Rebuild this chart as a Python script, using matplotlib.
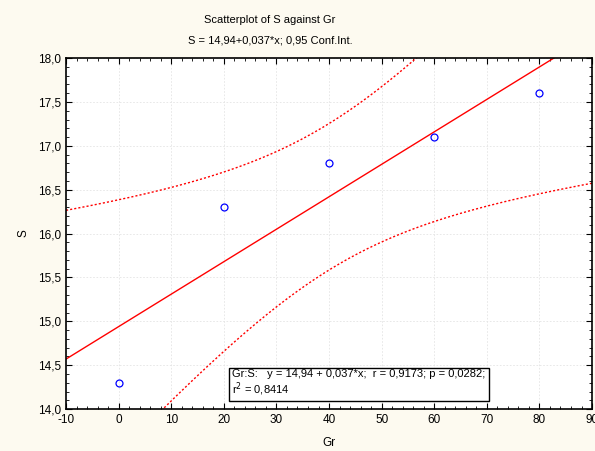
import numpy as np
import matplotlib
matplotlib.use("Agg")
import matplotlib.pyplot as plt
from matplotlib.ticker import MultipleLocator, FuncFormatter

plt.rcParams['font.family'] = ['Liberation Sans', 'DejaVu Sans']

# data
gr = np.array([0, 20, 40, 60, 80])
s = np.array([14.3, 16.3, 16.8, 17.1, 17.6])

T_95_DF3 = 3.1824  # two-sided 0.95 quantile, 3 degrees of freedom

# least-squares fit and 0.95 confidence band for the mean
n = len(gr)
slope, intercept = np.polyfit(gr, s, 1)
resid = s - (intercept + slope * gr)
se = np.sqrt(np.sum(resid ** 2) / (n - 2))
sxx = np.sum((gr - gr.mean()) ** 2)

xs = np.linspace(-10, 90, 300)
fit = intercept + slope * xs
half = T_95_DF3 * se * np.sqrt(1.0 / n + (xs - gr.mean()) ** 2 / sxx)

bg = '#FDFAF0'
fs = 8
fig = plt.figure(figsize=(5.95, 4.51), dpi=100, facecolor=bg)
ax = fig.add_axes([0.111, 0.093, 0.884, 0.778])
ax.set_facecolor('white')

ax.plot(xs, fit, color='red', lw=1.0)
ax.plot(xs, fit + half, color='red', lw=1.0, ls=(0, (1.5, 1.5)))
ax.plot(xs, fit - half, color='red', lw=1.0, ls=(0, (1.5, 1.5)))
ax.plot(gr, s, 'o', mfc='none', mec='blue', ms=5, mew=0.9)

ax.set_xlim(-10, 90)
ax.set_ylim(14.0, 18.0)
ax.xaxis.set_major_locator(MultipleLocator(10))
ax.xaxis.set_minor_locator(MultipleLocator(2))
ax.yaxis.set_major_locator(MultipleLocator(0.5))
ax.yaxis.set_minor_locator(MultipleLocator(0.1))
ax.xaxis.set_major_formatter(FuncFormatter(lambda v, p: f"{v:.0f}"))
ax.yaxis.set_major_formatter(FuncFormatter(lambda v, p: f"{v:.1f}".replace('.', ',')))
ax.tick_params(which='both', direction='in', top=True, right=True, labelsize=fs + 0.5, color='black')
ax.tick_params(which='major', length=4)
ax.tick_params(which='minor', length=2.5)
ax.grid(True, which='major', color='#E4E4E4', lw=0.6, ls=(0, (2, 2)))
for sp in ax.spines.values():
    sp.set_linewidth(1.2)

ax.set_xlabel('Gr', fontsize=fs + 0.5, labelpad=8)
ax.set_ylabel('S', fontsize=fs + 0.5, labelpad=6)

fig.text(0.454, 0.956, 'Scatterplot of S against Gr', ha='center', va='center', fontsize=fs)
fig.text(0.454, 0.911, 'S = 14,94+0,037*x; 0,95 Conf.Int.', ha='center', va='center', fontsize=fs)

ax.text(21.6, 14.13,
        'Gr:S:   y = 14,94 + 0,037*x;  r = 0,9173; p = 0,0282;\nr$^2$ = 0,8414',
        fontsize=fs, ha='left', va='bottom', linespacing=1.1,
        bbox=dict(boxstyle='square,pad=0.3', fc='white', ec='black', lw=1.0))

fig.savefig('out.png', dpi=100, facecolor=bg)
